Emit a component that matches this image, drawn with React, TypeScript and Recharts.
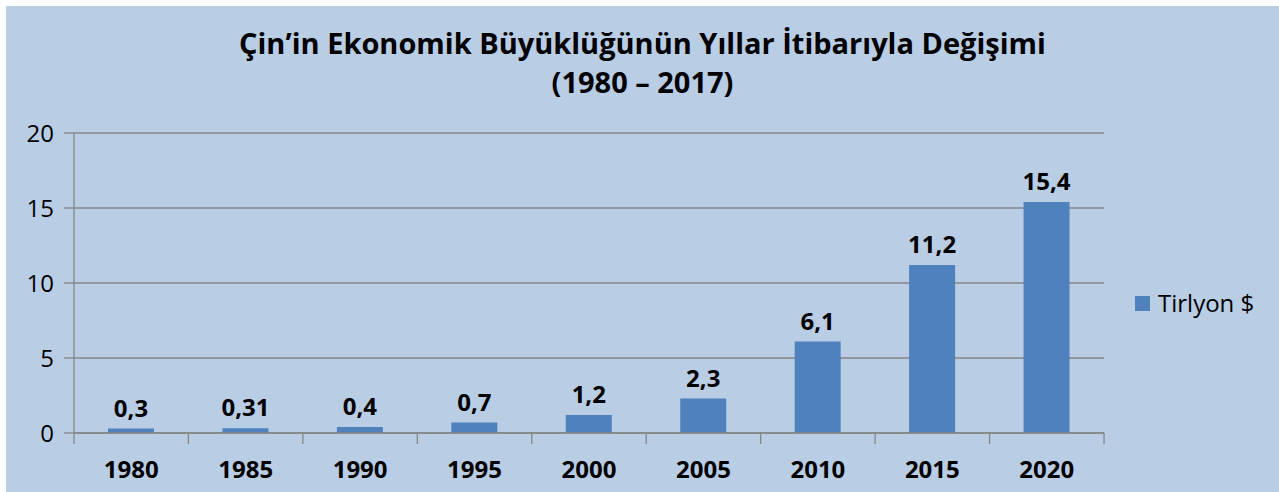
import React from "react";
import { BarChart, Bar, XAxis, YAxis, CartesianGrid, LabelList } from "recharts";

const years = ["1980", "1985", "1990", "1995", "2000", "2005", "2010", "2015", "2020"];
const values = [0.3, 0.31, 0.4, 0.7, 1.2, 2.3, 6.1, 11.2, 15.4];
const valueLabels = ["0,3", "0,31", "0,4", "0,7", "1,2", "2,3", "6,1", "11,2", "15,4"];
const yTicks = [0, 5, 10, 15, 20];
const seriesName = "Tirlyon $";
const titleLine1 = "Çin’in Ekonomik Büyüklüğünün Yıllar İtibarıyla Değişimi";
const titleLine2 = "(1980 – 2017)";

const data = years.map((y, i) => ({ year: y, value: values[i], label: valueLabels[i] }));

const W = 1273;
const H = 486;
const M = { top: 127, right: 175, left: 0, bottom: 0 };
const Y_W = 68;
const STEP = (W - M.right - Y_W) / years.length;
const FONT = "'Open Sans', sans-serif";
const GRID = "#868686";
const BAR = "#4f81bd";

const XTick = (props: any) => {
  const { x, y, payload, index } = props;
  const isLast = index === years.length - 1;
  return (
    <g>
      <line x1={x - STEP / 2} x2={x - STEP / 2} y1={y - 8} y2={y + 3} stroke={GRID} strokeWidth={1.3} />
      {isLast && (
        <line x1={x + STEP / 2} x2={x + STEP / 2} y1={y - 8} y2={y + 3} stroke={GRID} strokeWidth={1.3} />
      )}
      <text x={x} y={y + 37} textAnchor="middle" fontFamily={FONT} fontWeight={700} fontSize={24} fill="#000">
        {payload.value}
      </text>
    </g>
  );
};

export default function App() {
  return (
    <div style={{ position: "absolute", left: 6, top: 6, width: W, height: H, background: "#b9cde5" }}>
      <div
        style={{
          position: "absolute",
          left: 0,
          width: W,
          top: 17,
          textAlign: "center",
          fontFamily: FONT,
          fontWeight: 700,
          fontSize: 29,
          lineHeight: "39px",
          color: "#000",
        }}
      >
        <div>{titleLine1}</div>
        <div>{titleLine2}</div>
      </div>
      <div
        style={{
          position: "absolute",
          left: 1129,
          top: 280,
          display: "flex",
          alignItems: "center",
          fontFamily: FONT,
          fontSize: 24,
          lineHeight: "34px",
          color: "#000",
          whiteSpace: "nowrap",
        }}
      >
        <span style={{ display: "inline-block", width: 15, height: 15, background: BAR, marginRight: 8 }} />
        <span>{seriesName}</span>
      </div>
      <BarChart width={W} height={H} data={data} margin={M} barSize={46} style={{ position: "absolute", left: 0, top: 0 }}>
        <CartesianGrid vertical={false} stroke={GRID} strokeWidth={1.3} />
        <YAxis
          width={Y_W}
          domain={[0, 20]}
          ticks={yTicks}
          interval={0}
          tickSize={10}
          tickLine={{ stroke: GRID, strokeWidth: 1.3 }}
          axisLine={{ stroke: GRID, strokeWidth: 1.3 }}
          tick={{ fontFamily: FONT, fontSize: 24, fill: "#000" }}
          tickMargin={10}
        />
        <XAxis
          dataKey="year"
          height={59}
          interval={0}
          tickLine={false}
          axisLine={{ stroke: GRID, strokeWidth: 1.3 }}
          tick={<XTick />}
        />
        <Bar dataKey="value" name={seriesName} fill={BAR} isAnimationActive={false}>
          <LabelList
            dataKey="label"
            position="top"
            offset={12}
            style={{ fontFamily: FONT, fontWeight: 700, fontSize: 24, fill: "#000" }}
          />
        </Bar>
      </BarChart>
    </div>
  );
}
